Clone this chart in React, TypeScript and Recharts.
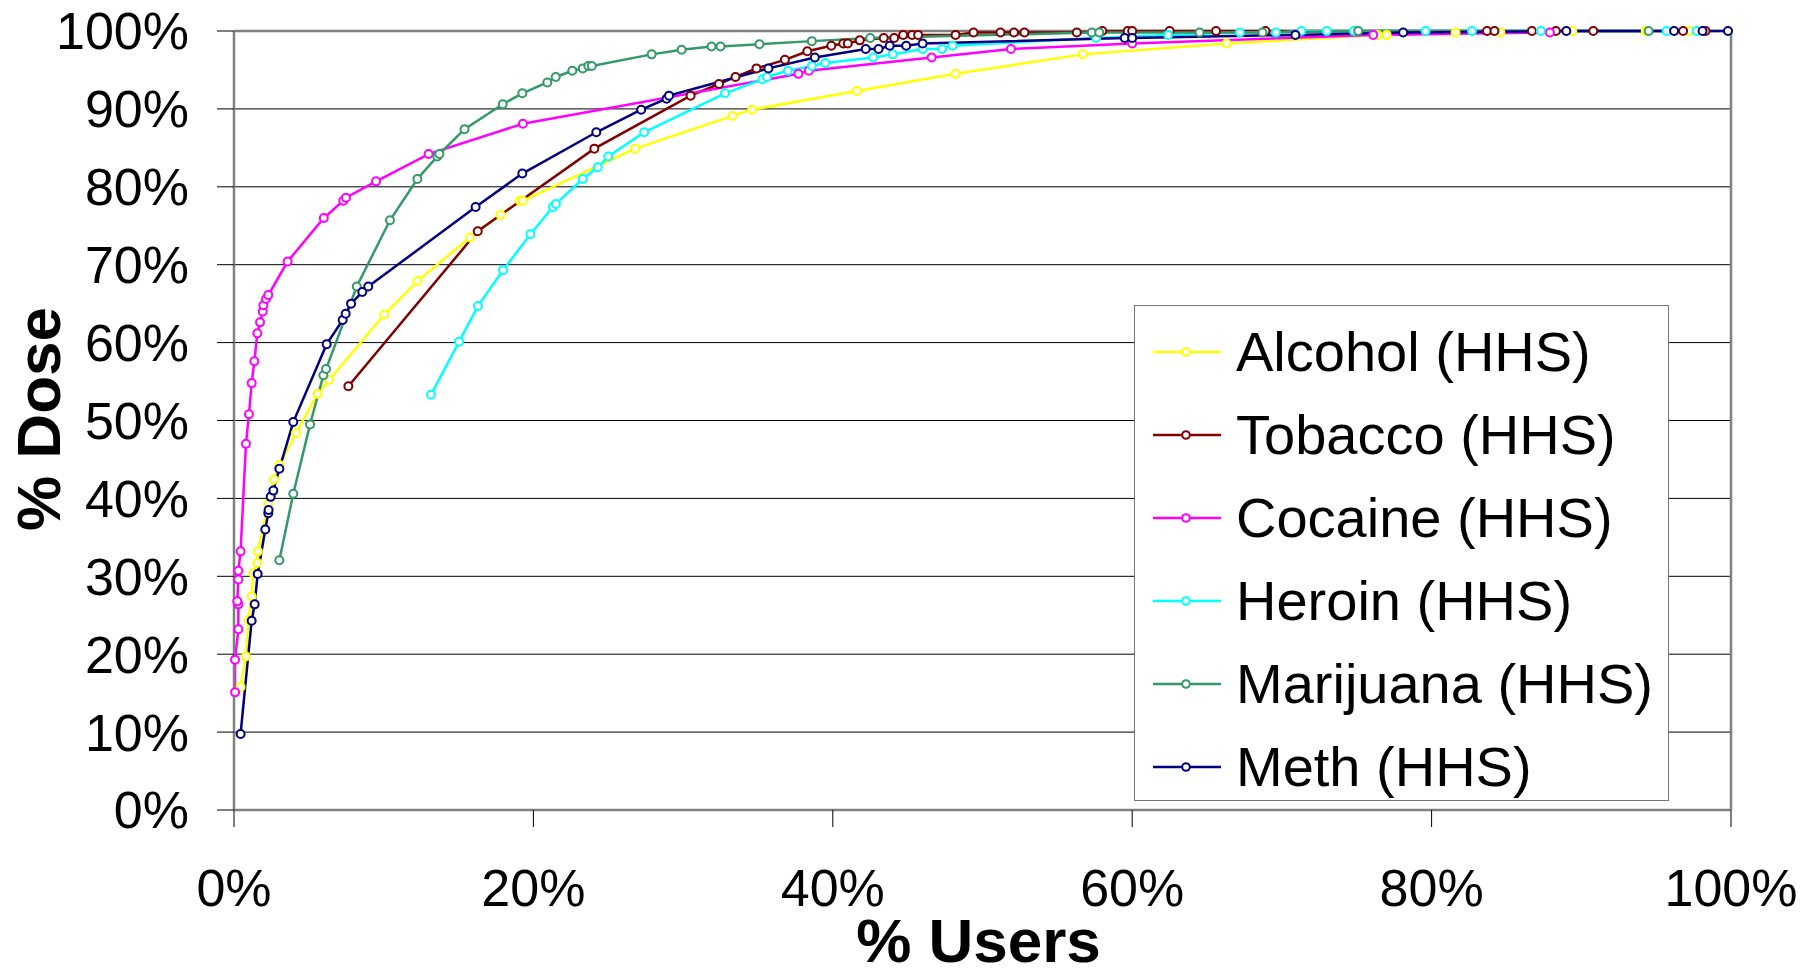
import React from "react";
import {
  LineChart,
  Line,
  XAxis,
  YAxis,
  CartesianGrid,
  ReferenceLine,
  Legend,
} from "recharts";

type Pt = { x: number; y: number };
const toPts = (arr: number[][]): Pt[] => arr.map(([x, y]) => ({ x, y }));

const alcohol = [
  [0.44, 15.8], [0.8, 19.7], [0.96, 24.4], [1.18, 27.4], [1.29, 30.4], [1.56, 31.7], [1.6, 33.2],
  [2.29, 39.3], [2.67, 42.4], [3.03, 44.3], [4.14, 48.4], [5.59, 53.4], [6.35, 55.2], [10.04, 63.6],
  [12.25, 67.9], [15.77, 73.5], [17.8, 76.4], [19.1, 78.2], [19.3, 78.2], [26.8, 84.9], [33.3, 89.1],
  [34.6, 89.9], [41.6, 92.3], [48.2, 94.5], [56.7, 97.0], [66.3, 98.4], [76.4, 99.5], [77.0, 99.5],
  [81.6, 99.8], [84.6, 99.8], [89.4, 100], [94.3, 100], [97.2, 100],
];

const tobacco = [
  [7.64, 54.4], [16.28, 74.3], [24.07, 84.9], [30.5, 91.7], [32.4, 93.2], [33.5, 94.1], [34.9, 95.2],
  [36.8, 96.3], [38.3, 97.4], [39.9, 98.1], [40.7, 98.4], [41.0, 98.4], [41.8, 98.8], [43.4, 99.1],
  [44.1, 99.1], [44.7, 99.5], [45.3, 99.5], [45.7, 99.5], [48.2, 99.5], [49.4, 99.8], [51.2, 99.8],
  [52.1, 99.8], [52.8, 99.8], [56.3, 99.8], [58.0, 100], [59.7, 100], [60.0, 100], [62.5, 100],
  [65.6, 100], [68.9, 100], [83.7, 100], [84.2, 100], [86.7, 100], [88.3, 100], [90.8, 100],
  [96.8, 100], [98.3, 100],
];

const cocaine = [
  [0.07, 15.1], [0.07, 19.3], [0.29, 23.2], [0.29, 26.4], [0.22, 26.8], [0.29, 29.6], [0.29, 30.7],
  [0.44, 33.2], [0.8, 47.0], [1.0, 50.8], [1.18, 54.8], [1.36, 57.6], [1.56, 61.2], [1.74, 62.6],
  [1.92, 64.0], [1.96, 64.8], [2.14, 65.6], [2.29, 66.1], [3.58, 70.4], [6.0, 76.0], [7.3, 78.2],
  [7.48, 78.6], [9.49, 80.7], [13.0, 84.2], [19.3, 88.1], [37.7, 94.5], [38.4, 94.9], [46.6, 96.6],
  [51.9, 97.7], [60.0, 98.4], [76.1, 99.5], [87.9, 99.8],
];

const heroin = [
  [13.16, 53.3], [15.03, 60.1], [16.3, 64.7], [17.97, 69.3], [19.8, 73.9], [21.3, 77.4], [21.5, 77.8],
  [23.3, 81.0], [24.3, 82.5], [25.0, 83.9], [27.4, 87.0], [32.8, 92.0], [35.3, 93.8], [35.6, 94.1],
  [37.0, 94.9], [38.6, 95.5], [39.5, 95.9], [42.7, 96.6], [44.0, 97.0], [46.0, 97.7], [47.3, 97.7],
  [48.0, 98.1], [57.6, 99.1], [62.4, 99.5], [67.2, 99.8], [69.6, 99.8], [71.3, 100], [73.0, 100],
  [74.8, 100], [79.6, 100], [82.7, 100], [87.3, 100], [95.7, 100], [97.7, 100],
];

const marijuana = [
  [3.03, 32.05], [3.96, 40.6], [5.08, 49.5], [5.97, 55.8], [6.15, 56.6], [8.2, 67.2], [10.42, 75.7],
  [12.25, 81.0], [13.58, 83.9], [13.72, 84.2], [15.4, 87.4], [17.95, 90.6], [19.26, 92.0],
  [20.93, 93.4], [21.49, 94.1], [22.6, 94.9], [23.3, 95.2], [23.67, 95.5], [23.9, 95.5], [27.9, 97.0],
  [29.9, 97.6], [31.9, 98.0], [32.5, 98.0], [35.1, 98.3], [38.6, 98.7], [42.5, 99.1], [57.3, 99.8],
  [57.8, 99.8], [64.5, 99.8], [68.7, 99.8], [75.1, 100], [94.5, 100],
];

const meth = [
  [0.44, 9.76], [1.18, 24.3], [1.38, 26.4], [1.58, 30.3], [2.09, 36.0], [2.29, 38.1], [2.31, 38.5],
  [2.45, 40.2], [2.63, 41.0], [3.03, 43.8], [3.96, 49.8], [6.19, 59.8], [7.26, 62.9], [7.46, 63.7],
  [7.82, 65.0], [8.57, 66.5], [8.97, 67.2], [16.14, 77.4], [19.26, 81.7], [24.2, 87.0], [27.2, 89.9],
  [28.9, 91.3], [29.06, 91.7], [35.7, 95.2], [38.8, 96.6], [42.2, 97.7], [43.06, 97.7], [43.8, 98.1],
  [44.9, 98.1], [46.0, 98.4], [59.5, 99.1], [60.0, 99.1], [70.9, 99.5], [78.1, 99.8], [89.0, 100],
  [96.2, 100], [98.1, 100], [99.8, 100],
];

const seriesNames = [
  "Alcohol (HHS)",
  "Tobacco (HHS)",
  "Cocaine (HHS)",
  "Heroin (HHS)",
  "Marijuana (HHS)",
  "Meth (HHS)",
];
const seriesColors = ["#FFFF00", "#800000", "#FF00FF", "#00FFFF", "#339966", "#000080"];
const seriesData = [alcohol, tobacco, cocaine, heroin, marijuana, meth];

const xTicks = [0, 20, 40, 60, 80, 100];
const yTicks = [0, 10, 20, 30, 40, 50, 60, 70, 80, 90, 100];

const FONT = "'Liberation Sans', Arial, Helvetica, sans-serif";

const YTick = (props: any) => {
  const { x, y, payload } = props;
  return (
    <text x={x} y={y} dy="0.355em" textAnchor="end" fontSize={52} fontFamily={FONT} fill="#000">
      {`${payload.value}%`}
    </text>
  );
};

const XTick = (props: any) => {
  const { x, y, payload } = props;
  return (
    <text x={x} y={y} dy="0.71em" textAnchor="middle" fontSize={52} fontFamily={FONT} fill="#000">
      {`${payload.value}%`}
    </text>
  );
};

const renderLegend = () => (
  <div
    style={{
      width: 535,
      height: 496,
      boxSizing: "border-box",
      border: "1.5px solid #777",
      background: "#fff",
      paddingTop: 4,
      fontFamily: FONT,
    }}
  >
    {seriesNames.map((name, i) => (
      <div
        key={name}
        style={{ height: 83, display: "flex", alignItems: "center", whiteSpace: "nowrap" }}
      >
        <svg width={101} height={20} style={{ flex: "0 0 auto" }}>
          <line x1={18} y1={10} x2={86} y2={10} stroke={seriesColors[i]} strokeWidth={2.5} />
          <circle cx={51} cy={10} r={3.8} fill="#fff" stroke={seriesColors[i]} strokeWidth={2} />
        </svg>
        <span style={{ fontSize: 56, color: "#000", lineHeight: 1 }}>{name}</span>
      </div>
    ))}
  </div>
);

export default function App() {
  return (
    <div style={{ position: "absolute", left: 0, top: 0, width: 1805, height: 976, background: "#fff" }}>
      <LineChart width={1805} height={976} margin={{ top: 31, right: 74, bottom: 0, left: 0 }}>
        <CartesianGrid horizontal vertical={false} stroke="#000" strokeWidth={1} />
        <XAxis
          type="number"
          dataKey="x"
          domain={[0, 100]}
          ticks={xTicks}
          height={166}
          tickSize={17}
          tickMargin={42}
          tick={<XTick />}
          axisLine={{ stroke: "#808080", strokeWidth: 2.5 }}
          tickLine={{ stroke: "#000", strokeWidth: 1 }}
          allowDuplicatedCategory={false}
          label={{
            content: (p: any) => {
              const vb = p.viewBox || { x: 234, y: 810, width: 1497 };
              return (
                <text
                  x={vb.x + vb.width / 2 - 4}
                  y={vb.y + 152}
                  textAnchor="middle"
                  fontSize={62}
                  fontWeight="bold"
                  fontFamily={FONT}
                  fill="#000"
                >
                  % Users
                </text>
              );
            },
          }}
        />
        <YAxis
          type="number"
          domain={[0, 100]}
          ticks={yTicks}
          width={234}
          tickSize={17}
          tickMargin={28}
          tick={<YTick />}
          axisLine={{ stroke: "#808080", strokeWidth: 2.5 }}
          tickLine={{ stroke: "#000", strokeWidth: 1 }}
          label={{
            content: (p: any) => {
              const vb = p.viewBox || { x: 0, y: 31, width: 234, height: 779 };
              const cx = vb.x + 60;
              const cy = vb.y + vb.height / 2 - 1.5;
              return (
                <text
                  x={cx}
                  y={cy}
                  transform={`rotate(-90, ${cx}, ${cy})`}
                  textAnchor="middle"
                  fontSize={62}
                  fontWeight="bold"
                  fontFamily={FONT}
                  fill="#000"
                >
                  % Dose
                </text>
              );
            },
          }}
        />
        <ReferenceLine y={100} stroke="#808080" strokeWidth={2.5} ifOverflow="visible" />
        <ReferenceLine x={100} stroke="#808080" strokeWidth={2.5} ifOverflow="visible" />
        {seriesData.map((d, i) => (
          <Line
            key={seriesNames[i]}
            data={toPts(d)}
            dataKey="y"
            name={seriesNames[i]}
            type="linear"
            stroke={seriesColors[i]}
            strokeWidth={2.5}
            dot={{ r: 4, fill: "#fff", stroke: seriesColors[i], strokeWidth: 2 }}
            activeDot={false}
            isAnimationActive={false}
          />
        ))}
        <Legend
          layout="vertical"
          align="center"
          verticalAlign="middle"
          content={renderLegend}
          wrapperStyle={{ position: "absolute", left: 1134, top: 305, width: 535, height: 496 }}
        />
      </LineChart>
    </div>
  );
}
